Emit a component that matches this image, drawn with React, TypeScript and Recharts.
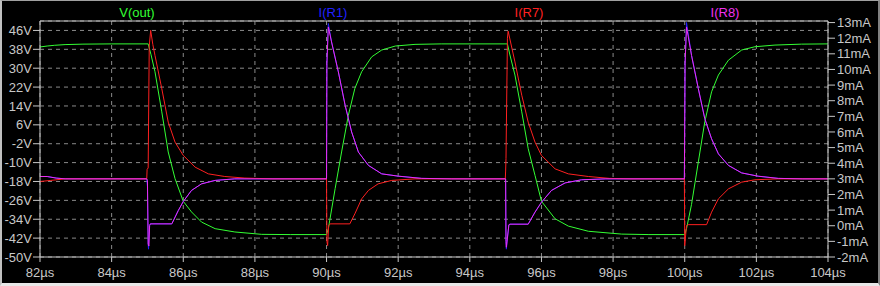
import React from 'react';
import { LineChart, Line, XAxis, YAxis, CartesianGrid } from 'recharts';

// tick values
const timeTicks = [82, 84, 86, 88, 90, 92, 94, 96, 98, 100, 102, 104];
const voltTicks = [-50, -42, -34, -26, -18, -10, -2, 6, 14, 22, 30, 38, 46];
const ampTicks = [-2, -1, 0, 1, 2, 3, 4, 5, 6, 7, 8, 9, 10, 11, 12, 13];

// [time µs, volts]
const vOut: [number, number][] = [
  [82, 39.0], [82.2, 39.4], [82.4, 39.7], [82.7, 40.0], [83.2, 40.2], [84, 40.3], [85.02, 40.3],
  [85.1, 35.7], [85.21, 28.5], [85.4, 11.5], [85.58, -5.5], [85.77, -16.8], [86.0, -26.4],
  [86.23, -30.9], [86.51, -35.2], [86.89, -38.0], [87.44, -39.4], [88.19, -40.4], [89.0, -40.5],
  [90.0, -40.5], [90.05, -38.0], [90.24, -21.0], [90.42, -5.5], [90.61, 10.1], [90.79, 21.4],
  [90.98, 28.5], [91.26, 34.8], [91.54, 37.7], [91.92, 39.4], [92.47, 40.1], [93.2, 40.3],
  [95.05, 40.3], [95.12, 35.6], [95.26, 27.1], [95.45, 11.5], [95.63, -4.1], [95.82, -15.4],
  [96.0, -26.4], [96.38, -33.8], [96.75, -36.9], [97.31, -39.1], [98.24, -40.3], [99.0, -40.5],
  [100.0, -40.5], [100.05, -38.0], [100.19, -27.7], [100.38, -9.7], [100.56, 7.3], [100.75, 20.0],
  [100.94, 27.1], [101.22, 33.4], [101.59, 37.7], [101.96, 39.1], [102.52, 39.8], [103.26, 40.2],
  [104, 40.3],
];

// [time µs, mA]
const iR1: [number, number][] = [
  [82, 3.15], [82.2, 3.15], [82.45, 3.05], [82.7, 3.0], [84.98, 3.0], [85.0, 2.5], [85.02, -1.2],
  [85.03, -1.5], [85.06, 0.01], [85.08, 0.12], [85.68, 0.12], [85.86, 0.97], [86.0, 1.55],
  [86.23, 2.26], [86.51, 2.68], [86.89, 2.9], [87.44, 3.0], [90.0, 3.0], [90.01, 10.4],
  [90.05, 12.94], [90.14, 11.76], [90.33, 9.84], [90.52, 7.7], [90.7, 6.0], [90.89, 4.71],
  [91.17, 3.86], [91.54, 3.32], [92.01, 3.17], [92.66, 3.03], [93.5, 3.0], [95.0, 3.0],
  [95.01, -1.0], [95.02, -1.5], [95.09, 0.06], [95.12, 0.1], [95.63, 0.1], [95.82, 0.87],
  [96.0, 1.5], [96.28, 2.26], [96.66, 2.74], [97.12, 2.94], [97.8, 3.0], [99.99, 3.0],
  [100.01, 10.4], [100.05, 13.0], [100.19, 10.9], [100.38, 8.77], [100.56, 6.85], [100.75, 5.56],
  [100.94, 4.6], [101.22, 3.86], [101.59, 3.38], [102.05, 3.17], [102.61, 3.03], [103.3, 3.0],
  [104, 3.0],
];

const iR7: [number, number][] = [
  [82, 2.83], [82.3, 2.9], [82.7, 3.0], [84.98, 3.0], [84.99, 3.6], [85.02, 3.7], [85.05, 11.5],
  [85.09, 12.5], [85.15, 11.6], [85.21, 10.9], [85.4, 8.77], [85.58, 6.63], [85.77, 5.35],
  [86.0, 4.5], [86.33, 3.75], [86.7, 3.32], [87.16, 3.15], [87.72, 3.05], [88.5, 3.0],
  [90.0, 3.0], [90.01, -1.0], [90.03, -1.27], [90.06, 0.0], [90.1, 0.12], [90.65, 0.12],
  [90.79, 0.76], [90.98, 1.72], [91.17, 2.26], [91.44, 2.68], [91.82, 2.9], [92.47, 3.0],
  [94.99, 3.0], [95.0, 3.5], [95.01, 4.3], [95.05, 12.0], [95.07, 12.45], [95.26, 10.48],
  [95.45, 8.35], [95.63, 6.63], [95.82, 5.35], [96.0, 4.5], [96.38, 3.64], [96.75, 3.32],
  [97.31, 3.15], [97.9, 3.03], [98.5, 3.0], [99.99, 3.0], [100.0, -1.27], [100.05, 0.01],
  [100.1, 0.07], [100.61, 0.07], [100.75, 0.87], [100.94, 1.72], [101.22, 2.36], [101.59, 2.79],
  [101.96, 2.94], [102.6, 3.0], [104, 3.0],
];

const iR8: [number, number][] = [
  [82, 3.15], [82.2, 3.15], [82.45, 3.05], [82.7, 3.0], [84.98, 3.0], [85.0, 2.9], [85.02, -1.17],
  [85.04, -1.3], [85.06, 0.01], [85.08, 0.12], [85.68, 0.12], [85.86, 0.97], [86.0, 1.55],
  [86.23, 2.26], [86.51, 2.68], [86.89, 2.9], [87.44, 3.0], [90.0, 3.0], [90.01, 10.4],
  [90.05, 12.72], [90.14, 11.76], [90.33, 9.84], [90.52, 7.7], [90.7, 6.0], [90.89, 4.71],
  [91.17, 3.86], [91.54, 3.32], [92.01, 3.17], [92.66, 3.03], [93.5, 3.0], [95.0, 3.0],
  [95.01, -1.0], [95.02, -1.38], [95.09, 0.06], [95.12, 0.1], [95.63, 0.1], [95.82, 0.87],
  [96.0, 1.5], [96.28, 2.26], [96.66, 2.74], [97.12, 2.94], [97.8, 3.0], [99.99, 3.0],
  [100.01, 10.4], [100.05, 12.72], [100.19, 10.9], [100.38, 8.77], [100.56, 6.85], [100.75, 5.56],
  [100.94, 4.6], [101.22, 3.86], [101.59, 3.38], [102.05, 3.17], [102.61, 3.03], [103.3, 3.0],
  [104, 3.0],
];

const traceNames = ['V(out)', 'I(R1)', 'I(R7)', 'I(R8)'];
const traceColors = ['#33ff33', '#2020ff', '#ff2020', '#f030f0'];
const titleCenters = [137, 333, 529, 725];

const FRAME = '#c8c8c8';
const GRID = '#8a8a8a';
const FONT = '"Liberation Sans", Arial, sans-serif';

const toPoints = (pairs: [number, number][]) => pairs.map(([t, v]) => ({ t, v }));

export default function App() {
  const tickStyle = { fill: FRAME, fontSize: 13, fontFamily: FONT };

  return (
    <div style={{ position: 'absolute', left: 0, top: 0, width: 880, height: 286, background: '#000', overflow: 'hidden' }}>
      <LineChart width={880} height={286} margin={{ top: 21, right: 0, bottom: 0, left: 0 }}>
        <CartesianGrid yAxisId="left" stroke={GRID} strokeDasharray="4 4" />
        <XAxis
          type="number"
          dataKey="t"
          domain={[82, 104]}
          ticks={timeTicks}
          interval={0}
          allowDataOverflow
          height={29}
          stroke={FRAME}
          tickSize={5}
          tickMargin={6}
          tick={tickStyle}
          tickFormatter={(v: number) => `${v}µs`}
        />
        <XAxis
          xAxisId="top"
          orientation="top"
          type="number"
          dataKey="t"
          domain={[82, 104]}
          ticks={timeTicks}
          interval={0}
          allowDataOverflow
          mirror
          tick={false}
          tickSize={4}
          stroke={FRAME}
        />
        <YAxis
          yAxisId="left"
          domain={[-50, 50]}
          ticks={voltTicks}
          interval={0}
          allowDataOverflow
          width={40}
          stroke={FRAME}
          tickSize={7}
          tickMargin={1}
          tick={tickStyle}
          tickFormatter={(v: number) => `${v}V`}
        />
        <YAxis
          yAxisId="right"
          orientation="right"
          domain={[-2, 13.1]}
          ticks={ampTicks}
          interval={0}
          allowDataOverflow
          width={52}
          stroke={FRAME}
          tickSize={7}
          tickMargin={2}
          tick={tickStyle}
          tickFormatter={(v: number) => `${v}mA`}
        />
        <Line yAxisId="left" data={toPoints(vOut)} dataKey="v" type="linear" stroke={traceColors[0]} strokeWidth={1} dot={false} activeDot={false} isAnimationActive={false} />
        <Line yAxisId="right" data={toPoints(iR1)} dataKey="v" type="linear" stroke={traceColors[1]} strokeWidth={1} dot={false} activeDot={false} isAnimationActive={false} />
        <Line yAxisId="right" data={toPoints(iR7)} dataKey="v" type="linear" stroke={traceColors[2]} strokeWidth={1} dot={false} activeDot={false} isAnimationActive={false} />
        <Line yAxisId="right" data={toPoints(iR8)} dataKey="v" type="linear" stroke={traceColors[3]} strokeWidth={1} dot={false} activeDot={false} isAnimationActive={false} />
      </LineChart>

      {traceNames.map((name, i) => (
        <div
          key={name}
          style={{
            position: 'absolute',
            left: titleCenters[i] - 50,
            top: 5,
            width: 100,
            textAlign: 'center',
            fontFamily: FONT,
            fontSize: 13,
            lineHeight: '15px',
            color: traceColors[i],
          }}
        >
          {name}
        </div>
      ))}

      {/* window frame */}
      <div
        style={{
          position: 'absolute',
          inset: 0,
          boxSizing: 'border-box',
          borderTop: '1px solid #a0a0a0',
          borderLeft: '2px solid #c0c0c0',
          borderRight: '2px solid #808080',
          borderBottom: '3px solid #e8e8e8',
          pointerEvents: 'none',
        }}
      />
    </div>
  );
}
